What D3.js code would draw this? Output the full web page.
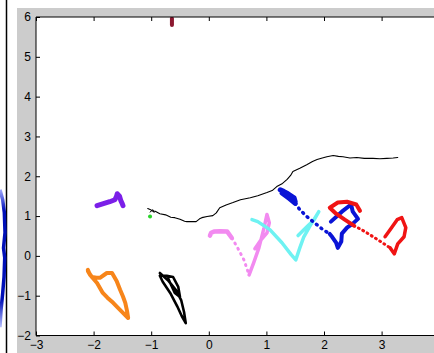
<!DOCTYPE html>
<html><head><meta charset="utf-8">
<script src="https://cdn.jsdelivr.net/npm/d3@7"></script>
<style>html,body{margin:0;padding:0;background:#fff;}svg{display:block;}</style>
</head><body>
<svg id="c" width="434" height="353"></svg>
<script>
// ---- data (axis units) ----
const xTicks = [-3,-2,-1,0,1,2,3];
const yTicks = [-2,-1,0,1,2,3,4,5,6];
const xDomain = [-3,4];
const yDomain = [-2,6];

const darkRedTrack = [[-0.64,5.96],[-0.64,5.80]];
const purpleTrack = [[-1.94,1.26],[-1.83,1.31],[-1.72,1.36],[-1.63,1.41],[-1.60,1.50],[-1.59,1.56],[-1.55,1.50],[-1.53,1.40],[-1.50,1.30],[-1.49,1.26]];
const greenPoint = [[-1.02,0.99]];
const blackThin = [[-1.06,1.19],[-1.00,1.15],[-0.97,1.12],[-0.93,1.12],[-0.85,1.06],[-0.75,1.03],[-0.66,0.97],[-0.59,0.96],[-0.50,0.92],[-0.42,0.87],[-0.38,0.86],[-0.30,0.86],[-0.22,0.86],[-0.16,0.93],[-0.12,0.96],[-0.03,0.99],[0.07,1.01],[0.13,1.08],[0.19,1.21],[0.30,1.28],[0.42,1.34],[0.55,1.41],[0.72,1.46],[0.85,1.51],[1.01,1.59],[1.10,1.64],[1.18,1.74],[1.28,1.82],[1.36,1.92],[1.42,2.02],[1.46,2.12],[1.58,2.20],[1.70,2.29],[1.80,2.37],[1.88,2.42],[1.97,2.46],[2.05,2.49],[2.16,2.52],[2.25,2.50],[2.33,2.49],[2.45,2.46],[2.57,2.47],[2.70,2.45],[2.85,2.45],[2.97,2.44],[3.09,2.45],[3.20,2.46],[3.28,2.47]];
const blackArrow = [[-1.02,1.10],[-0.97,1.16],[-0.95,1.09]];
const orangeTrack = [[-2.10,-0.35],[-2.07,-0.45],[-2.03,-0.53],[-1.95,-0.55],[-1.89,-0.55],[-1.82,-0.48],[-1.77,-0.43],[-1.68,-0.43],[-1.60,-0.63],[-1.54,-0.85],[-1.49,-1.02],[-1.45,-1.18],[-1.42,-1.38],[-1.40,-1.56],[-1.49,-1.43],[-1.58,-1.30],[-1.66,-1.18],[-1.76,-1.05],[-1.84,-0.93],[-1.94,-0.68],[-2.00,-0.58],[-2.06,-0.48],[-2.10,-0.38]];
const blackLoop = [[-0.85,-0.43],[-0.71,-0.61],[-0.57,-0.86],[-0.48,-1.11],[-0.43,-1.41],[-0.40,-1.69],[-0.47,-1.51],[-0.55,-1.26],[-0.67,-0.93],[-0.80,-0.65],[-0.85,-0.50],[-0.73,-0.50],[-0.62,-0.53],[-0.53,-0.78],[-0.50,-1.03],[-0.59,-0.93],[-0.67,-0.68],[-0.71,-0.55]];
const pinkSolidA = [[0.02,0.51],[0.04,0.58],[0.09,0.61],[0.20,0.62],[0.32,0.61],[0.40,0.45]];
const pinkDots = [[0.40,0.45],[0.49,0.23],[0.61,-0.10],[0.70,-0.48]];
const pinkSolidB = [[0.70,-0.48],[0.78,-0.17],[0.87,0.20],[0.96,0.71],[1.01,1.04],[1.05,0.83],[1.01,0.58],[0.91,0.41],[0.80,0.18]];
const cyanTrack = [[0.75,0.91],[0.85,0.86],[1.06,0.66],[1.27,0.33],[1.43,0.03],[1.51,-0.10],[1.58,0.20],[1.65,0.48],[1.76,0.76],[1.91,1.11],[1.83,0.91],[1.69,0.71],[1.55,0.51]];
const blueSolidA = [[1.24,1.66],[1.30,1.62],[1.375,1.56],[1.48,1.46],[1.50,1.36],[1.41,1.46],[1.30,1.56],[1.27,1.58],[1.40,1.44],[1.50,1.32]];
const blueDots = [[1.50,1.32],[1.58,1.16],[1.70,0.99],[1.81,0.86],[1.98,0.66],[2.10,0.55]];
const blueSolidB = [[2.10,0.55],[2.14,0.48],[2.21,0.33],[2.24,0.20],[2.30,0.36],[2.31,0.56],[2.40,0.71],[2.50,0.81],[2.59,0.93],[2.50,1.11],[2.47,1.29],[2.31,1.11],[2.12,0.86]];
const redSolidA = [[2.625,1.13],[2.56,1.29],[2.40,1.36],[2.24,1.34],[2.10,1.21],[2.21,1.06],[2.36,0.91],[2.52,0.76]];
const redDots = [[2.52,0.76],[2.71,0.61],[2.94,0.40],[3.15,0.20]];
const redSolidB = [[3.15,0.20],[3.22,0.05],[3.28,0.30],[3.39,0.48],[3.42,0.71],[3.35,0.96],[3.27,0.91],[3.16,0.68],[3.06,0.48]];
const edgeCurve = [[-3.625,1.66],[-3.578,1.41],[-3.55,1.09],[-3.538,0.58],[-3.564,0.20],[-3.543,-0.05],[-3.555,-0.53],[-3.578,-0.93],[-3.607,-1.36],[-3.625,-1.79]];

// ---- layout ----
const W = 434, H = 353;
const L = 36, T = 17, B = 335.5;
const R = L + 7*57.6;
const svg = d3.select('#c');
const x = d3.scaleLinear().domain(xDomain).range([L, R]);
const y = d3.scaleLinear().domain(yDomain).range([B, T]);
const line = d3.line().x(d=>x(d[0])).y(d=>y(d[1]));

// figure background
svg.append('rect').attr('x',0).attr('y',0).attr('width',W).attr('height',H).attr('fill','#ffffff');
svg.append('rect').attr('x',17).attr('y',8).attr('width',W-17).attr('height',H-8).attr('fill','#cccccc');
svg.append('line').attr('x1',6.5).attr('x2',6.5).attr('y1',0).attr('y2',H).attr('stroke','#000').attr('stroke-width',1.5);

// neighbouring panel curve (left strip)
const eg = svg.append('defs').append('linearGradient').attr('id','eg').attr('x1',0).attr('x2',0).attr('y1',0).attr('y2',1);
eg.append('stop').attr('offset','0%').attr('stop-color','#9fa8ff');
eg.append('stop').attr('offset','15%').attr('stop-color','#0010b8');
eg.append('stop').attr('offset','80%').attr('stop-color','#0010b8');
eg.append('stop').attr('offset','100%').attr('stop-color','#b8c0ff');
svg.append('path').attr('d',line(edgeCurve)).attr('fill','none').attr('stroke','url(#eg)').attr('stroke-width',3.5);

// axes box
svg.append('rect').attr('x',L).attr('y',T).attr('width',R-L).attr('height',B-T).attr('fill','#fff');
svg.append('clipPath').attr('id','clip').append('rect').attr('x',L).attr('y',T).attr('width',R-L).attr('height',B-T);
const g = svg.append('g').attr('clip-path','url(#clip)');

function draw(data, color, w, dash){
  const p = g.append('path').attr('d', line(data)).attr('fill','none')
    .attr('stroke', color).attr('stroke-width', w)
    .attr('stroke-linecap','round').attr('stroke-linejoin','round');
  if (dash) p.attr('stroke-dasharray', dash);
  return p;
}

draw(blackThin, '#000', 1.1);
draw(blackArrow, '#000', 1);
draw(darkRedTrack, '#8c1830', 4);
draw(purpleTrack, '#7b1fe8', 5);
draw(orangeTrack, '#f7851a', 4);
draw(blackLoop, '#000', 2.6);
draw(pinkSolidA, '#f28af0', 4.5);
draw(pinkDots, '#f28af0', 3, '1,5');
draw(pinkSolidB, '#f28af0', 3.5);
draw(cyanTrack, '#6ef2f2', 3.5);
draw(blueSolidA, '#0a14d6', 5);
draw(blueDots, '#0a14d6', 3.5, '1,5');
draw(blueSolidB, '#0a14d6', 4);
draw(redSolidA, '#f01414', 4);
draw(redDots, '#f01414', 3, '1,4');
draw(redSolidB, '#f01414', 3.5);
g.selectAll('circle.gp').data(greenPoint).join('circle').attr('class','gp')
  .attr('cx',d=>x(d[0])).attr('cy',d=>y(d[1])).attr('r',2).attr('fill','#2ad42a');

// axes lines and ticks (inward, MATLAB style)
const font = "'Liberation Sans', Arial, Helvetica, sans-serif";
const xb = svg.append('g').attr('transform',`translate(0,${B})`)
  .call(d3.axisBottom(x).tickValues(xTicks).tickSize(-4).tickPadding(6).tickFormat(d3.format('d')));
const xt = svg.append('g').attr('transform',`translate(0,${T})`)
  .call(d3.axisTop(x).tickValues(xTicks).tickSize(-4).tickFormat(''));
const yl = svg.append('g').attr('transform',`translate(${L},0)`)
  .call(d3.axisLeft(y).tickValues(yTicks).tickSize(-4).tickPadding(5).tickFormat(d3.format('d')));
[xb,xt,yl].forEach(a=>{
  a.select('.domain').attr('stroke','#000').attr('stroke-width',1);
  a.selectAll('.tick line').attr('stroke','#000');
  a.selectAll('text').attr('fill','#000').style('font-family',font).style('font-size','12px');
});
xb.selectAll('text').attr('dy','0.62em');
xt.select('.domain').attr('d',`M${L},0H${R}`);
xb.select('.domain').attr('d',`M${L},0H${R}`);
yl.select('.domain').attr('d',`M0,${T}V${B}`);
</script>
</body></html>
